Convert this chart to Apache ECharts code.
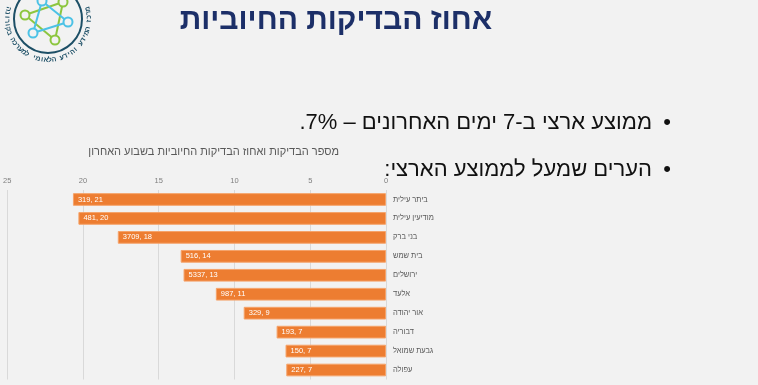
<!DOCTYPE html>
<html>
<head>
<meta charset="utf-8">
<script src="https://cdn.jsdelivr.net/npm/echarts@6/dist/echarts.min.js"></script>
<style>
html,body{margin:0;padding:0;background:#f2f2f2;}
#c{width:758px;height:385px;}
</style>
</head>
<body>
<div id="c"></div>
<script>
// ---- data ----
const cities = ['ביתר עילית','מודיעין עילית','בני ברק','בית שמש','ירושלים','אלעד','אור יהודה','דבוריה','גבעת שמואל','עפולה'];
const positivePct = [20.66, 20.3, 17.7, 13.55, 13.36, 11.23, 9.39, 7.22, 6.63, 6.58];
const testCounts = [319, 481, 3709, 516, 5337, 987, 329, 193, 150, 227];
const pctLabels = [21, 20, 18, 14, 13, 11, 9, 7, 7, 7];
const xTicks = { min: 0, max: 25, interval: 5 };

const slideTitle = 'אחוז הבדיקות החיוביות';
const chartTitle = 'מספר הבדיקות ואחוז הבדיקות החיוביות בשבוע האחרון';
const bullet1 = 'ממוצע ארצי ב-7 ימים האחרונים – 7%.';
const bullet2 = 'הערים שמעל לממוצע הארצי:';
const logoText = 'מרכז המידע והידע הלאומי למערכה בקורונה';

const RLE = '\u202B', PDF = '\u202C';
const FONT = '"Liberation Sans", Arial, sans-serif';

// ---- logo graphic ----
const logo = [];
const cx = 48, cy = 19;
logo.push({ type: 'circle', shape: { cx: cx, cy: cy, r: 34 }, style: { fill: 'none', stroke: '#1d4f66', lineWidth: 2 } });
const green = '#8dc63f', blue = '#4cc2e6';
const gTri = [[63, 2], [55, 40], [25, 15]];
const bTri = [[42, 1], [68, 22], [33, 33]];
[[gTri, green], [bTri, blue]].forEach(function (p) {
  const t = p[0], col = p[1];
  for (let i = 0; i < 3; i++) {
    const a = t[i], b = t[(i + 1) % 3];
    logo.push({ type: 'line', shape: { x1: a[0], y1: a[1], x2: b[0], y2: b[1] }, style: { stroke: col, lineWidth: 2 } });
  }
});
[[gTri, green], [bTri, blue]].forEach(function (p) {
  p[0].forEach(function (pt) {
    logo.push({ type: 'circle', shape: { cx: pt[0], cy: pt[1], r: 4.5 }, style: { fill: '#f2f2f2', stroke: p[1], lineWidth: 2 } });
  });
});
const chars = Array.from(logoText);
const th0 = -14, th1 = 194;
chars.forEach(function (ch, i) {
  const th = th0 + (th1 - th0) * i / (chars.length - 1);
  const rad = th * Math.PI / 180;
  const r = 41;
  logo.push({
    type: 'text',
    x: cx + r * Math.cos(rad), y: cy + r * Math.sin(rad),
    rotation: (90 - th) * Math.PI / 180,
    style: { text: ch, x: 0, y: 0, align: 'center', verticalAlign: 'middle', fill: '#1d4f66', font: 'bold 7px ' + FONT }
  });
});

const chart = echarts.init(document.getElementById('c'));
chart.setOption({
  backgroundColor: '#f2f2f2',
  animation: false,
  title: {
    text: chartTitle,
    right: 414, top: 141,
    textStyle: { fontSize: 11, fontWeight: 'normal', color: '#595959', fontFamily: FONT }
  },
  grid: { left: 6.5, right: 372, top: 190, bottom: 5.5 },
  xAxis: {
    type: 'value', inverse: true, position: 'top',
    min: xTicks.min, max: xTicks.max, interval: xTicks.interval,
    axisLine: { show: false }, axisTick: { show: false },
    axisLabel: { fontSize: 7.5, color: '#7f7f7f', margin: 5, fontFamily: FONT },
    splitLine: { lineStyle: { color: '#d9d9d9', width: 1 } }
  },
  yAxis: {
    type: 'category', data: cities, inverse: true, position: 'right',
    axisLine: { show: false }, axisTick: { show: false },
    axisLabel: { fontSize: 7.5, color: '#595959', margin: 7, fontFamily: FONT }
  },
  series: [{
    type: 'bar', data: positivePct, barCategoryGap: '33%',
    itemStyle: { color: '#ed7d31', borderColor: '#f5a36a', borderWidth: 1 },
    label: {
      show: true, position: 'insideLeft', distance: 5,
      color: '#ffffff', fontSize: 7.5, fontFamily: FONT,
      formatter: function (p) { return testCounts[p.dataIndex] + ', ' + pctLabels[p.dataIndex]; }
    }
  }],
  graphic: [
    { type: 'group', children: logo },
    { type: 'text', x: 336, y: 21, style: { text: slideTitle, align: 'center', verticalAlign: 'middle', fill: '#1c2f68', font: 'bold 30px ' + FONT } },
    { type: 'text', x: 667, y: 123, style: { text: '•', align: 'center', verticalAlign: 'middle', fill: '#111', font: '22px ' + FONT } },
    { type: 'text', x: 652, y: 123, style: { text: RLE + bullet1 + PDF, align: 'right', verticalAlign: 'middle', fill: '#111', font: '22px ' + FONT } },
    { type: 'text', x: 667, y: 170, style: { text: '•', align: 'center', verticalAlign: 'middle', fill: '#111', font: '22px ' + FONT } },
    { type: 'text', x: 652, y: 170, style: { text: RLE + bullet2 + PDF, align: 'right', verticalAlign: 'middle', fill: '#111', font: '22px ' + FONT } }
  ]
});
</script>
</body>
</html>
